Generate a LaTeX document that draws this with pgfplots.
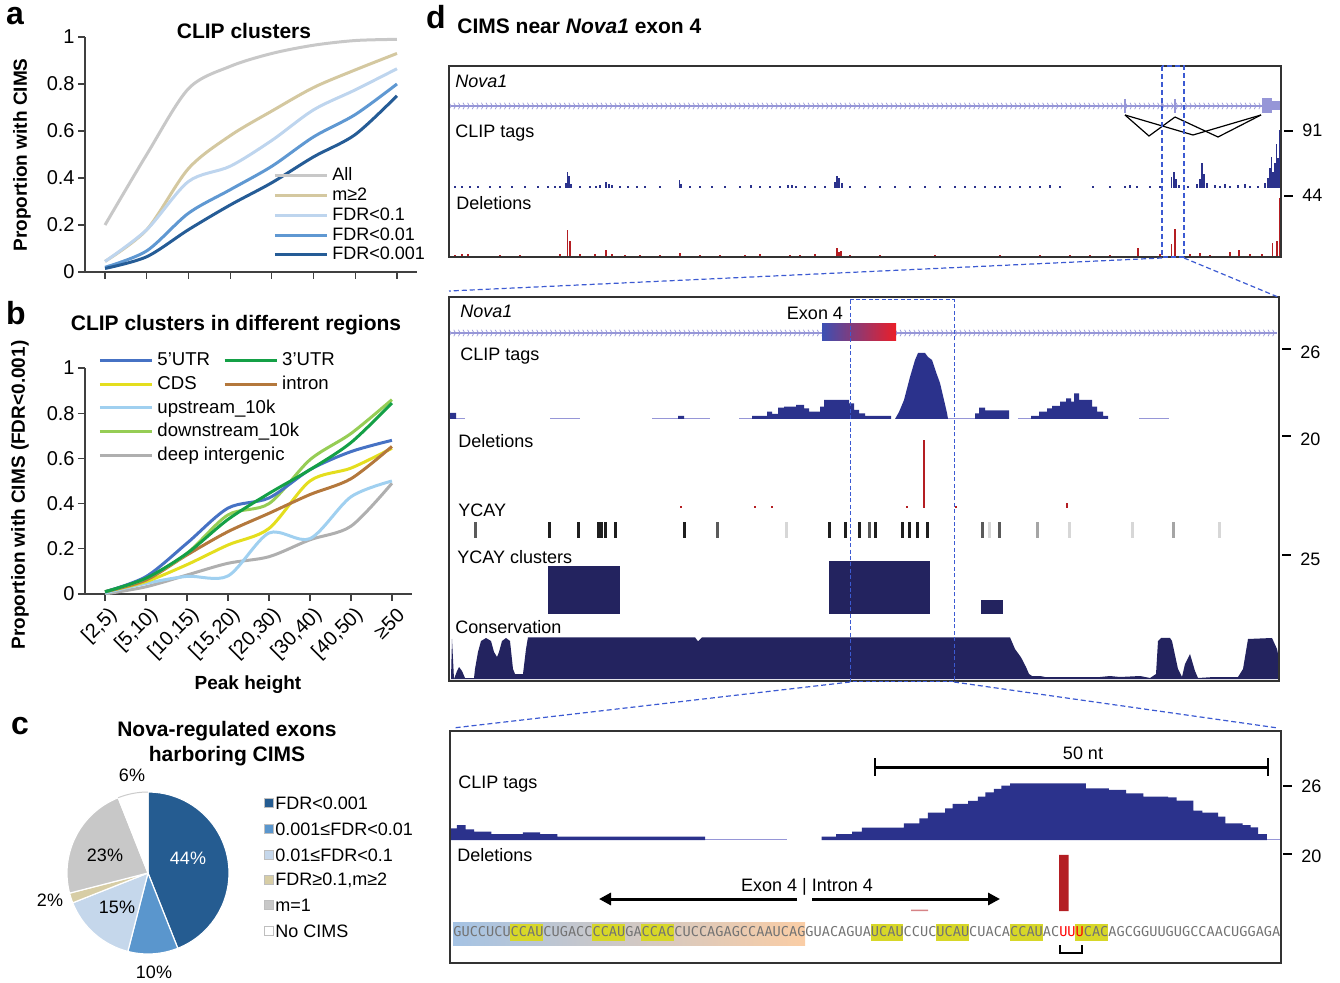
\documentclass[border=0pt]{standalone}
\usepackage{fontspec}
\setmainfont{Liberation Sans}
\newfontfamily\seqfont{DejaVu Sans Mono}
\usepackage{pgfplots}
\pgfplotsset{compat=1.18}
\usetikzlibrary{decorations.markings,arrows.meta}
\newcommand\fs[1]{\fontsize{#1}{#1}\selectfont}
\definecolor{cAll}{RGB}{200,200,200}
\definecolor{cM2}{RGB}{212,200,160}
\definecolor{cF1}{RGB}{190,213,238}
\definecolor{cF2}{RGB}{95,152,210}
\definecolor{cF3}{RGB}{37,92,150}
\definecolor{c5}{RGB}{70,114,196}
\definecolor{c3}{RGB}{20,160,70}
\definecolor{cCDS}{RGB}{228,222,30}
\definecolor{cInt}{RGB}{180,120,60}
\definecolor{cUp}{RGB}{160,208,240}
\definecolor{cDown}{RGB}{150,205,85}
\definecolor{cDeep}{RGB}{175,175,175}
\definecolor{pA}{RGB}{37,92,145}
\definecolor{pB}{RGB}{90,150,205}
\definecolor{pC}{RGB}{197,215,235}
\definecolor{pD}{RGB}{215,205,165}
\definecolor{pE}{RGB}{200,200,200}
\definecolor{clipc}{RGB}{43,50,140}
\definecolor{consc}{RGB}{35,35,95}
\definecolor{delc}{RGB}{180,30,35}
\definecolor{genec}{RGB}{150,150,215}
\definecolor{dashc}{RGB}{60,90,210}
\definecolor{seqgray}{RGB}{115,115,115}
\definecolor{hl}{RGB}{215,215,40}
\definecolor{g1}{RGB}{30,30,30}
\definecolor{g2}{RGB}{90,90,90}
\definecolor{g3}{RGB}{165,165,165}
\definecolor{g4}{RGB}{215,215,215}
\pgfplotsset{
  trk/.style={hide axis, scale only axis, clip=false, xmin=449, xmax=1281, width=416pt, anchor=south west},
  chart/.style={scale only axis, anchor=south west, axis x line*=bottom, axis y line*=left,
    axis line style={black!75, line width=0.6pt}, tick style={black!75, line width=0.6pt},
    tick align=outside, major tick length=3.5pt, ymin=0, ymax=1, ytick={0,0.2,0.4,0.6,0.8,1},
    xtick={0,1,2,3,4,5,6,7}, /pgf/number format/assume math mode=true,
    ticklabel style={font=\fs{10}}, yticklabel style={inner sep=1.5pt}}
}
\tikzset{chev/.style={decoration={markings, mark=between positions 0 and 1 step 2.3pt with {\draw[genec, line width=0.35pt] (-0.9pt,-1.6pt) -- (0,0) -- (-0.9pt,1.6pt);}}, postaction={decorate}}}
\begin{document}
\begin{tikzpicture}
\useasboundingbox (0,0) rectangle (670pt,491pt);

% ---------------- panel a
\begin{axis}[chart, at={(42.5pt,355pt)}, width=166pt, height=117.5pt, xmin=-0.48, xmax=7.48,
  xticklabels={,,,,,,,},
  legend style={draw=none, fill=none, at={(axis description cs:0.566,0.45)}, anchor=north west,
    font=\fs{9}, inner sep=0pt, nodes={inner sep=0.5pt, text height=6.5pt, text depth=1.5pt}, row sep=0.9pt,
    /tikz/every odd column/.append style={column sep=1.5pt}},
  legend cell align=left,
  legend image code/.code={\draw[#1, line width=1.5pt] (0pt,0pt) -- (26pt,0pt);}]
\addplot[cAll, line width=1.5pt, smooth] coordinates {(0,0.20) (1,0.50) (2,0.78) (3,0.875) (4,0.93) (5,0.965) (6,0.985) (7,0.99)};
\addlegendentry{All}
\addplot[cM2, line width=1.5pt, smooth] coordinates {(0,0.045) (1,0.18) (2,0.44) (3,0.58) (4,0.685) (5,0.785) (6,0.86) (7,0.93)};
\addlegendentry{m≥2}
\addplot[cF1, line width=1.5pt, smooth] coordinates {(0,0.045) (1,0.18) (2,0.385) (3,0.45) (4,0.56) (5,0.69) (6,0.775) (7,0.865)};
\addlegendentry{FDR<0.1}
\addplot[cF2, line width=1.5pt, smooth] coordinates {(0,0.02) (1,0.09) (2,0.25) (3,0.35) (4,0.45) (5,0.575) (6,0.67) (7,0.80)};
\addlegendentry{FDR<0.01}
\addplot[cF3, line width=1.5pt, smooth] coordinates {(0,0.015) (1,0.065) (2,0.18) (3,0.285) (4,0.38) (5,0.49) (6,0.585) (7,0.75)};
\addlegendentry{FDR<0.001}
\end{axis}

% ---------------- panel b
\begin{axis}[chart, at={(42.5pt,194pt)}, width=163.5pt, height=113pt, xmin=-0.49, xmax=7.49,
  xticklabels={{[2,5)},{[5,10)},{[10,15)},{[15,20)},{[20,30)},{[30,40)},{[40,50)},{≥50}},
  xticklabel style={rotate=45, anchor=east, inner sep=1pt, yshift=-7pt, xshift=0.5pt},
  legend style={draw=none, fill=none, at={(axis description cs:0.04,1.075)}, anchor=north west,
    font=\fs{9.3}, inner sep=0pt, nodes={inner sep=0.5pt, text height=6.7pt, text depth=1.5pt}, row sep=2.6pt,
    /tikz/every odd column/.append style={column sep=1.5pt},
    /tikz/every even column/.append style={column sep=6pt}},
  legend columns=2, legend cell align=left,
  legend image code/.code={\draw[#1, line width=1.5pt] (0pt,0pt) -- (26pt,0pt);}]
\addplot[forget plot, cDeep, line width=1.5pt, smooth] coordinates {(0,0.0) (1,0.032) (2,0.084) (3,0.136) (4,0.165) (5,0.24) (6,0.30) (7,0.49)};
\addplot[forget plot, cUp, line width=1.5pt, smooth] coordinates {(0,0.005) (1,0.047) (2,0.078) (3,0.08) (4,0.27) (5,0.245) (6,0.43) (7,0.50)};
\addplot[forget plot, cCDS, line width=1.5pt, smooth] coordinates {(0,0.01) (1,0.055) (2,0.13) (3,0.217) (4,0.29) (5,0.50) (6,0.557) (7,0.645)};
\addplot[forget plot, cInt, line width=1.5pt, smooth] coordinates {(0,0.01) (1,0.062) (2,0.173) (3,0.276) (4,0.357) (5,0.44) (6,0.51) (7,0.653)};
\addplot[forget plot, cDown, line width=1.5pt, smooth] coordinates {(0,0.01) (1,0.07) (2,0.18) (3,0.35) (4,0.40) (5,0.594) (6,0.71) (7,0.86)};
\addplot[forget plot, c5, line width=1.5pt, smooth] coordinates {(0,0.01) (1,0.077) (2,0.225) (3,0.38) (4,0.425) (5,0.55) (6,0.63) (7,0.68)};
\addplot[forget plot, c3, line width=1.5pt, smooth] coordinates {(0,0.01) (1,0.07) (2,0.18) (3,0.33) (4,0.445) (5,0.55) (6,0.67) (7,0.845)};
\addlegendimage{c5}\addlegendentry{5'UTR}
\addlegendimage{c3}\addlegendentry{3'UTR}
\addlegendimage{cCDS}\addlegendentry{CDS}
\addlegendimage{cInt}\addlegendentry{intron}
\addlegendimage{cUp}\addlegendentry{\makebox[0pt][l]{upstream\_10k}}
\addlegendimage{empty legend}\addlegendentry{}
\addlegendimage{cDown}\addlegendentry{\makebox[0pt][l]{downstream\_10k}}
\addlegendimage{empty legend}\addlegendentry{}
\addlegendimage{cDeep}\addlegendentry{\makebox[0pt][l]{deep intergenic}}
\end{axis}

% ---------------- panel c pie
\def\angstart{90}
\foreach \p/\c in {44/pA,10/pB,15/pC,2/pD,23/pE,6/white}{
  \pgfmathsetmacro\angend{\angstart-3.6*\p}
  \fill[\c, draw=white, line width=0.6pt] (74pt,54.5pt) -- ++(\angstart:40.5pt) arc[start angle=\angstart, end angle=\angend, radius=40.5pt] -- cycle;
  \xdef\angstart{\angend}
}
\draw[black!20, line width=0.5pt] (74pt,54.5pt) ++(111.6:40.5pt) arc[start angle=111.6, end angle=90, radius=40.5pt];

% ---------------- panel d tracks
% box1 CLIP
\begin{axis}[trk, at={(224.5pt,397pt)}, ymin=0, ymax=60, height=30pt]
\addplot[ycomb, clipc, line width=0.6pt] coordinates {(566,5) (567.5,16) (569,12) (571,4) (560,2) (555,1.5) (600,3) (606,6) (609,4) (612,3) (596,2) (637,2) (679.6,8) (681,4) (751,3) (788,3) (792,3) (796,2) (835,6) (837,12) (839,10) (842,5) (1093,2) (1125,2) (1130,3) (1137,2) (1171.7,11) (1174,16) (1176,9) (1179,3) (1197,4) (1200,9) (1202,25) (1204,14) (1207,5) (1215,3) (1225,4) (1230,2) (1238,3) (1245,4) (1250,2) (1265,5) (1268,10) (1270,20) (1271.7,31) (1273,16) (1275,25) (1276.7,44) (1278,30) (1280,58)
(455,1.5) (462,2) (470,1.5) (478,2) (490,1.5) (500,2) (512,1.5) (525,2) (538,1.5) (548,2) (580,2) (590,1.5) (620,2) (628,1.5) (645,2) (660,1.5) (690,2) (700,1.5) (712,2) (725,1.5) (740,2) (760,1.5) (770,2) (780,1.5) (805,2) (815,1.5) (825,2) (850,1.5) (865,2) (880,1.5) (895,2) (910,1.5) (925,2) (940,1.5) (955,2) (965,1.5) (975,2) (985,1.5) (995,2) (1000,1.5) (1010,2) (1020,1.5) (1030,2) (1040,1.5) (1050,3) (1060,2) (1110,1.5) (1150,2) (1160,1.5) (1188,2) (1220,1.5) (1258,2)};
\end{axis}
% box1 deletions
\begin{axis}[trk, at={(224.5pt,363pt)}, ymin=0, ymax=60, height=30pt]
\addplot[ycomb, delc, line width=0.6pt] coordinates {(567.4,26) (570,15) (606,6) (580,2) (595,2) (680,3) (837,8) (839,4) (841,5) (1138,8) (1171.7,12) (1175,27) (1200,3) (1230,4) (1239,6) (1272.7,13) (1277,15) (1280,58)
(455,1) (462,2) (468,1.5) (500,1) (520,1) (560,1.5) (612,1.5) (625,1) (640,1) (660,1) (700,1) (720,1) (745,1) (760,1.5) (790,1) (800,1) (815,1.5) (850,1) (880,1) (935,1) (1000,1) (1040,1) (1070,1) (1090,1) (1110,1) (1160,1.5) (1190,1.5) (1210,1) (1250,2) (1262,1.5)};
\end{axis}
% box2 CLIP
\begin{axis}[trk, at={(224.5pt,281.5pt)}, ymin=0, ymax=70, height=35pt]
\addplot[genec, line width=0.8pt, forget plot] coordinates {(449,0.5) (465,0.5)};
\addplot[genec, line width=0.8pt, forget plot] coordinates {(550,0.5) (580,0.5)};
\addplot[genec, line width=0.8pt, forget plot] coordinates {(652,0.5) (710,0.5)};
\addplot[genec, line width=0.8pt, forget plot] coordinates {(739,0.5) (891,0.5)};
\addplot[genec, line width=0.8pt, forget plot] coordinates {(948,0.5) (975,0.5)};
\addplot[genec, line width=0.8pt, forget plot] coordinates {(1018,0.5) (1031,0.5)};
\addplot[genec, line width=0.8pt, forget plot] coordinates {(1139,0.5) (1169,0.5)};
\addplot[const plot, fill=clipc, draw=none] coordinates {(449,0) (449,6) (456,0)};
\addplot[const plot, fill=clipc, draw=none] coordinates {(678,0) (678,3) (684,0)};
\addplot[const plot, fill=clipc, draw=none] coordinates {(752,0) (752,3) (767,7.3) (772,5) (778,11.3) (784,12.3) (796,14) (804,10.7) (809,7.3) (820,12.3) (824,19) (849,15.7) (854,9) (859,5.7) (865,3) (891,0)};
\addplot[fill=clipc, draw=none] coordinates {(895,0) (899,7) (904,19) (910,42) (915,59) (918,66) (925,66) (928,62) (932,59) (936,47) (940,36) (944,19) (947,6) (948,0)};
\addplot[const plot, fill=clipc, draw=none] coordinates {(975,0) (975,5.7) (979,11.3) (985,8.7) (1009,0)};
\addplot[const plot, fill=clipc, draw=none] coordinates {(1031,0) (1031,3) (1039,7.3) (1047,10.7) (1052,13) (1060,17.3) (1066,20.7) (1071,17.3) (1074,25.7) (1079,19) (1092,12.3) (1097,7.3) (1103,3) (1108,0)};
\end{axis}
% box2 deletions
\begin{axis}[trk, at={(224.5pt,237pt)}, ymin=0, ymax=70, height=35pt]
\addplot[ycomb, delc, line width=0.8pt] coordinates {(924,68) (681,1.5) (755,1.5) (772,1.5) (907,1.5) (956,1.5) (1067,5)};
\end{axis}
% box2 YCAY
\begin{axis}[trk, at={(224.5pt,222pt)}, ymin=0, ymax=16, height=8pt]
\addplot[ycomb, g1, line width=1.5pt] coordinates {(549.6,16) (578.7,16) (598,16) (601.5,16) (605,16) (615.8,16) (684.6,16) (829,16) (845,16) (859,16) (875,16) (902.7,16) (909.6,16) (917.5,16) (927,16)};
\addplot[ycomb, g2, line width=1.5pt] coordinates {(475.5,16) (717.4,16) (869,16) (982.6,16) (999.6,16)};
\addplot[ycomb, g3, line width=1.5pt] coordinates {(1037.7,16) (1173,16)};
\addplot[ycomb, g4, line width=1.5pt] coordinates {(786,16) (989,16) (1069.5,16) (1132,16) (1219,16)};
\end{axis}
% box2 YCAY clusters
\begin{axis}[trk, at={(224.5pt,184pt)}, ymin=0, ymax=55, height=27.5pt]
\addplot[fill=consc, draw=none] coordinates {(548,0) (548,47.6) (619.5,47.6) (619.5,0)};
\addplot[fill=consc, draw=none] coordinates {(829,0) (829,53) (930,53) (930,0)};
\addplot[fill=consc, draw=none] coordinates {(981,0) (981,14) (1003,14) (1003,0)};
\end{axis}
% box2 conservation
\begin{axis}[trk, at={(224.5pt,151.5pt)}, ymin=0, ymax=45, height=22.5pt]
\addplot[fill=consc, draw=none] coordinates {(450,0) (451,0) (452,40) (454,0) (457,8) (459,12) (462,8) (465,1) (474,1) (475,10) (478,27) (481,38) (486,41) (491,38) (494,27) (497,22) (499,27) (502,38) (506,41) (510,38) (513,10) (515,5) (523,5) (526,30) (528,41.7) (695,41.7) (698,37.7) (702,41.7) (1010,41.7) (1015,30) (1021,21.7) (1026,12) (1029,5) (1032,3) (1040,3) (1045,2) (1060,2) (1070,2) (1100,2) (1110,3) (1120,2) (1140,3) (1150,1) (1156,5) (1158,38) (1161,41) (1170,41) (1172,38) (1178,10) (1182,2) (1185,15) (1190,25) (1195,8) (1198,1) (1214,2) (1238,2) (1243,10) (1248,40) (1272,41) (1277,30) (1279,20) (1279,0)};
\end{axis}
% box3 CLIP
\begin{axis}[trk, at={(224.5pt,71pt)}, ymin=0, ymax=60, height=30pt]
\addplot[genec, line width=0.8pt, forget plot] coordinates {(705,0.5) (787,0.5)};
\addplot[genec, line width=0.8pt, forget plot] coordinates {(1266,0.5) (1281,0.5)};
\addplot[const plot, fill=clipc, draw=none] coordinates {(450,0) (450,11.7) (456.9,15) (465.5,10.7) (474.1,8.3) (491.4,6) (522.9,7.7) (540.2,6) (557.4,3.3) (705,0)};
\addplot[const plot, fill=clipc, draw=none] coordinates {(821.6,0) (821.6,3.3) (836,6) (852,8.3) (861.8,12.3) (903.8,16.7) (919.3,21.7) (927.9,27.3) (945.1,31.7) (952.6,36) (968.1,39) (977.9,43.3) (985.3,47.7) (993.9,51) (1001.4,54.3) (1010,56.7) (1085.8,51.7) (1108.8,50) (1126,46.7) (1143.3,43.3) (1168,42.7) (1176.6,39.3) (1193.3,29.3) (1202.4,27.3) (1218,23.3) (1225.4,16.7) (1242.6,15) (1250.7,12.7) (1258.2,6) (1266.8,0)};
\end{axis}
% box3 deletions
\begin{axis}[trk, at={(224.5pt,35.5pt)}, ymin=0, ymax=60, height=30pt]
\addplot[const plot, fill=delc, draw=none] coordinates {(1059,0) (1059,56) (1068.6,0)};
\addplot[const plot, fill=delc!55, draw=none] coordinates {(911,0) (911,1.5) (928,0)};
\end{axis}

% ---------------- texts and frames in pixel units
\begin{scope}[x=0.5pt, y=-0.5pt, shift={(0pt,491pt)}]
% panel letters
\node[font=\bfseries\fs{16}] at (15,16) {a};
\node[font=\bfseries\fs{16}] at (16,313) {b};
\node[font=\bfseries\fs{16}] at (20,726) {c};
\node[font=\bfseries\fs{16}] at (436,17) {d};
% panel a/b labels
\node[font=\bfseries\fs{10.5}] at (244,31) {CLIP clusters};
\node[font=\bfseries\fs{9.5}, rotate=90] at (22,155) {Proportion with CIMS};
\node[font=\bfseries\fs{10.5}] at (236,325) {CLIP clusters in different regions};
\node[font=\bfseries\fs{9.5}, rotate=90] at (20,495) {Proportion with CIMS (FDR<0.001)};
\node[font=\bfseries\fs{9.5}] at (248,685) {Peak height};
% panel c
\node[font=\bfseries\fs{10.5}] at (227,731) {Nova-regulated exons};
\node[font=\bfseries\fs{10.5}] at (227,756) {harboring CIMS};
\node[font=\fs{9}, text=white] at (188,858) {44\%};
\node[font=\fs{9}] at (105,855) {23\%};
\node[font=\fs{9}] at (117,907) {15\%};
\node[font=\fs{9}] at (154,972) {10\%};
\node[font=\fs{9}] at (50,900) {2\%};
\node[font=\fs{9}] at (132,775) {6\%};
\foreach \yy/\c/\t in {803/pA/{FDR<0.001},829/pB/{0.001≤FDR<0.01},855/pC/{0.01≤FDR<0.1},880/pD/{FDR≥0.1,m≥2},905/pE/{m=1},931/white/{No CIMS}}{
  \fill[\c, draw=black!25, line width=0.3pt] (264,\yy-4.5) rectangle (273,\yy+4.5);
  \node[font=\fs{9}, anchor=west, inner sep=0pt] at (275,\yy) {\t};
}
% panel d title
\node[font=\bfseries\fs{10.5}, anchor=west, inner sep=0pt] at (457,26) {CIMS near \textit{Nova1} exon 4};
% box 1
\draw[genec, line width=0.7pt, chev] (451,106) -- (1262,106);
\draw[genec, line width=1pt] (1125,99) -- (1125,113) (1175,99) -- (1175,113) (1162,101) -- (1162,111);
\fill[genec] (1262,98) rectangle (1272,113);
\fill[genec] (1272,101.5) rectangle (1281,110.5);
\draw[black, line width=0.6pt] (1125,115) -- (1149,136) -- (1175,117);
\draw[black, line width=0.6pt] (1125,115) -- (1193,135) -- (1261,115);
\draw[black, line width=0.6pt] (1175,117) -- (1218,137) -- (1261,115);
\node[font=\itshape\fs{9}, anchor=west, inner sep=0pt] at (455,81) {Nova1};
\node[font=\fs{9}, anchor=west, inner sep=0pt] at (455,133) {CLIP tags};
\node[font=\fs{9}, anchor=west, inner sep=0pt] at (456,203) {Deletions};
\draw[line width=1.2pt] (1284,131) -- (1293,131);
\draw[line width=1.2pt] (1284,196) -- (1293,196);
\node[font=\fs{9}, anchor=west, inner sep=0pt] at (1302,130) {91};
\node[font=\fs{9}, anchor=west, inner sep=0pt] at (1302,195) {44};
\draw[black!80, line width=0.8pt] (449,66) rectangle (1281,257);
% box 2
\draw[genec, line width=0.7pt, chev] (451,333) -- (1277,333);
\shade[left color={rgb,255:red,60;green,80;blue,180}, middle color={rgb,255:red,160;green,40;blue,140}, right color={rgb,255:red,235;green,30;blue,40}] (822,324) rectangle (896,341);
\node[font=\itshape\fs{9}, anchor=west, inner sep=0pt] at (460,311) {Nova1};
\node[font=\fs{9}] at (815,313) {Exon 4};
\node[font=\fs{9}, anchor=west, inner sep=0pt] at (460,356) {CLIP tags};
\node[font=\fs{9}, anchor=west, inner sep=0pt] at (458,441) {Deletions};
\node[font=\fs{9}, anchor=west, inner sep=0pt] at (458,510) {YCAY};
\node[font=\fs{9}, anchor=west, inner sep=0pt] at (457,557) {YCAY clusters};
\node[font=\fs{9}, anchor=west, inner sep=0pt] at (455,627) {Conservation};
\draw[line width=1.2pt] (1282,349) -- (1291,349);
\draw[line width=1.2pt] (1282,436) -- (1291,436);
\draw[line width=1.2pt] (1282,555) -- (1291,555);
\node[font=\fs{9}, anchor=west, inner sep=0pt] at (1300,352) {26};
\node[font=\fs{9}, anchor=west, inner sep=0pt] at (1300,439) {20};
\node[font=\fs{9}, anchor=west, inner sep=0pt] at (1300,559) {25};
\draw[black!80, line width=0.8pt] (449,297) rectangle (1279,681);
% box 3
\shade[left color={rgb,255:red,165;green,195;blue,228}, right color={rgb,255:red,250;green,205;blue,165}] (453,922) rectangle (805,945);
\foreach \i in {7,17,23,51,59,68,76}{
  \fill[hl] ({453+8.19*\i},924) rectangle ({453+8.19*(\i+4)},941);
}
\node[anchor=base west, inner sep=0pt, text=seqgray, font=\seqfont\fs{6.8}] at (453,936.5) {GUCCUCUCCAUCUGACCCCAUGACCACCUCCAGAGCCAAUCAGGUACAGUAUCAUCCUCUCAUCUACACCAUAC\textcolor{red}{UUU}CACAGCGGUUGUGCCAACUGGAGA};
\draw[line width=1.2pt] (1060,945) -- (1060,953) -- (1082,953) -- (1082,945);
\node[font=\fs{9}, anchor=west, inner sep=0pt] at (458,784) {CLIP tags};
\node[font=\fs{9}, anchor=west, inner sep=0pt] at (457,855) {Deletions};
\draw[line width=1.5pt] (875,767) -- (1268,767);
\draw[line width=1.2pt] (875,758) -- (875,776) (1268,758) -- (1268,776);
\node[font=\fs{9}] at (1083,753) {50 nt};
\node[font=\fs{9}] at (807,887) {Exon 4 | Intron 4};
\draw[line width=1.5pt, -{Triangle[length=6pt,width=6pt]}] (797,899) -- (599,899);
\draw[line width=1.5pt, -{Triangle[length=6pt,width=6pt]}] (812,899) -- (1000,899);
\draw[line width=1.2pt] (1283,786) -- (1292,786);
\draw[line width=1.2pt] (1283,854) -- (1292,854);
\node[font=\fs{9}, anchor=west, inner sep=0pt] at (1301,786) {26};
\node[font=\fs{9}, anchor=west, inner sep=0pt] at (1301,856) {20};
\draw[black!80, line width=0.8pt] (450,731) rectangle (1281,963);
% dashed zoom guides
\draw[dashc, line width=0.6pt, dash pattern=on 2.5pt off 1.5pt] (1162,66) rectangle (1184,257);
\draw[dashc, line width=0.6pt, dash pattern=on 2.5pt off 1.5pt] (1162,258) -- (449,291) (1184,258) -- (1278,297);
\draw[dashc, line width=0.5pt, dash pattern=on 2pt off 1.2pt] (850,300) rectangle (954,681);
\draw[dashc, line width=0.6pt, dash pattern=on 2.5pt off 1.5pt] (850,682) -- (453,728) (954,682) -- (1278,728);
\end{scope}
\end{tikzpicture}
\end{document}
